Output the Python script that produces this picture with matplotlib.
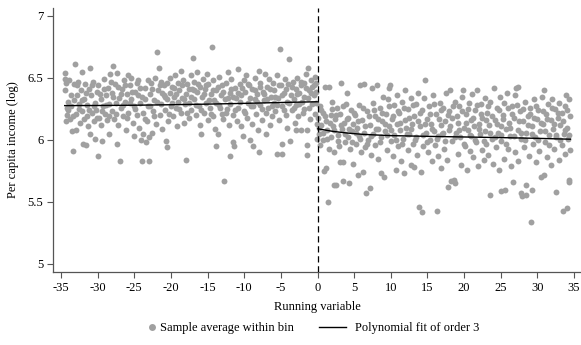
import numpy as np
import matplotlib
matplotlib.use("Agg")
import matplotlib.pyplot as plt
from matplotlib.lines import Line2D

# --- Данные ---
# точки слева от порога (x, y)
left_points = [
    (-34.4, 6.54), (-34.4, 6.49), (-34.3, 6.46), (-34.2, 6.20), (-34.3, 6.15), (-34.1, 6.31), (-34.0, 6.24),
    (-33.9, 6.48), (-33.8, 6.17), (-33.7, 6.27), (-33.5, 6.07), (-33.4, 5.91), (-33.3, 6.32), (-33.2, 6.45), (-33.1, 6.61), (-33.0, 6.21),
    (-32.9, 6.08), (-32.8, 6.36), (-32.7, 6.47), (-32.5, 6.29), (-32.4, 6.14), (-32.3, 6.40), (-32.2, 6.55), (-32.0, 5.97), (-32.1, 6.23),
    (-31.9, 6.33), (-31.7, 6.45), (-31.6, 5.96), (-31.5, 6.19), (-31.4, 6.28), (-31.3, 6.11), (-31.2, 6.41), (-31.0, 6.58), (-31.1, 6.05),
    (-30.9, 6.36), (-30.8, 6.22), (-30.6, 6.47), (-30.5, 6.15), (-30.4, 6.30), (-30.3, 6.01), (-30.1, 6.39), (-30.0, 5.87), (-30.2, 6.24),
    (-29.9, 6.44), (-29.8, 6.18), (-29.6, 6.33), (-29.5, 6.12), (-29.4, 5.99), (-29.3, 6.27), (-29.1, 6.49), (-29.0, 6.21),
    (-28.9, 6.36), (-28.7, 6.16), (-28.6, 6.42), (-28.5, 6.05), (-28.4, 6.29), (-28.3, 6.53), (-28.1, 6.23), (-28.0, 6.38),
    (-27.9, 6.60), (-27.8, 6.17), (-27.7, 6.45), (-27.5, 6.30), (-27.4, 6.54), (-27.3, 5.97), (-27.2, 6.12), (-27.1, 6.34),
    (-26.9, 5.83), (-26.8, 6.26), (-26.7, 6.41), (-26.5, 6.19), (-26.4, 6.48), (-26.3, 6.31), (-26.1, 6.08), (-26.0, 6.37),
    (-25.9, 6.52), (-25.8, 6.22), (-25.6, 6.44), (-25.5, 6.33), (-25.4, 6.50), (-25.2, 6.14), (-25.1, 6.27), (-25.0, 6.03),
    (-24.9, 6.39), (-24.7, 6.46), (-24.6, 6.20), (-24.5, 6.48), (-24.3, 6.10), (-24.2, 6.30), (-24.1, 6.00), (-24.0, 6.35),
    (-23.9, 5.83), (-23.8, 6.05), (-23.6, 6.42), (-23.5, 6.17), (-23.4, 5.98), (-23.2, 6.27), (-23.1, 6.48), (-23.0, 5.83), (-23.0, 6.02),
    (-22.9, 6.37), (-22.7, 6.46), (-22.6, 6.06), (-22.5, 6.23), (-22.3, 6.32), (-22.2, 6.50), (-22.1, 6.13), (-21.9, 6.71),
    (-21.8, 6.40), (-21.7, 6.58), (-21.5, 6.20), (-21.4, 6.47), (-21.3, 6.29), (-21.2, 6.09), (-21.0, 6.36),
    (-20.9, 6.44), (-20.8, 6.24), (-20.7, 5.99), (-20.6, 5.94), (-20.5, 6.33), (-20.4, 6.15), (-20.2, 6.50), (-20.1, 6.38), (-20.0, 6.27),
    (-19.9, 6.43), (-19.7, 6.19), (-19.6, 6.35), (-19.5, 6.52), (-19.3, 6.26), (-19.2, 6.11), (-19.1, 6.46), (-19.0, 6.31),
    (-18.9, 6.40), (-18.7, 6.56), (-18.6, 6.22), (-18.5, 6.34), (-18.3, 6.48), (-18.2, 6.14), (-18.0, 5.84), (-18.1, 6.29),
    (-17.9, 6.37), (-17.8, 6.45), (-17.6, 6.18), (-17.5, 6.30), (-17.3, 6.52), (-17.2, 6.24), (-17.0, 6.66), (-17.1, 6.41),
    (-16.9, 6.33), (-16.8, 6.47), (-16.6, 6.20), (-16.5, 6.39), (-16.4, 6.55), (-16.2, 6.27), (-16.1, 6.12), (-16.0, 6.43),
    (-15.9, 6.05), (-15.8, 6.35), (-15.6, 6.49), (-15.5, 6.22), (-15.4, 6.41), (-15.2, 6.30), (-15.1, 6.53), (-15.0, 6.16),
    (-14.9, 6.45), (-14.7, 6.26), (-14.6, 6.37), (-14.4, 6.75), (-14.3, 6.19), (-14.2, 6.48), (-14.1, 6.32), (-14.0, 6.09),
    (-13.9, 5.95), (-13.8, 6.40), (-13.6, 6.05), (-13.5, 6.28), (-13.4, 6.51), (-13.2, 6.36), (-13.1, 6.21), (-13.0, 6.44),
    (-12.9, 6.17), (-12.7, 5.67), (-12.6, 6.33), (-12.5, 6.46), (-12.4, 6.25), (-12.2, 6.55), (-12.1, 6.12), (-12.0, 5.87), (-12.0, 6.38),
    (-11.9, 6.29), (-11.8, 6.49), (-11.6, 5.98), (-11.5, 6.20), (-11.4, 5.95), (-11.3, 6.42), (-11.1, 6.34), (-11.0, 6.15),
    (-10.9, 6.57), (-10.8, 6.26), (-10.6, 6.45), (-10.5, 6.11), (-10.4, 6.36), (-10.2, 6.03), (-10.1, 6.48), (-10.0, 6.23),
    (-9.9, 6.39), (-9.8, 6.52), (-9.6, 6.18), (-9.5, 6.30), (-9.3, 6.44), (-9.2, 6.00), (-9.1, 6.27), (-9.0, 6.13),
    (-8.9, 6.41), (-8.8, 5.95), (-8.6, 6.33), (-8.5, 6.50), (-8.4, 6.21), (-8.2, 6.37), (-8.1, 6.08), (-8.0, 5.90), (-8.0, 6.56),
    (-7.9, 6.28), (-7.8, 6.46), (-7.6, 6.16), (-7.5, 6.39), (-7.3, 6.32), (-7.2, 6.53), (-7.1, 6.22), (-7.0, 6.05),
    (-6.9, 6.43), (-6.8, 6.26), (-6.6, 6.49), (-6.5, 6.12), (-6.4, 6.35), (-6.2, 6.19), (-6.1, 6.46), (-6.0, 6.30),
    (-5.9, 6.40), (-5.8, 6.23), (-5.6, 5.89), (-5.5, 6.52), (-5.4, 6.34), (-5.2, 6.16), (-5.1, 6.73), (-5.0, 6.44),
    (-4.9, 6.27), (-4.8, 5.89), (-4.8, 5.97), (-4.6, 6.38), (-4.5, 6.49), (-4.3, 6.20), (-4.2, 6.31), (-4.1, 6.10), (-4.0, 6.45),
    (-3.9, 6.65), (-3.8, 5.99), (-3.6, 6.36), (-3.5, 6.24), (-3.4, 6.47), (-3.2, 6.33), (-3.1, 6.14), (-3.0, 6.08), (-3.0, 6.41),
    (-2.9, 6.28), (-2.8, 6.50), (-2.6, 6.19), (-2.5, 6.38), (-2.3, 6.44), (-2.2, 6.08), (-2.1, 6.31), (-2.0, 6.22),
    (-1.9, 6.46), (-1.8, 6.35), (-1.6, 6.53), (-1.5, 5.96), (-1.4, 5.88), (-1.4, 6.08), (-1.3, 6.58), (-1.2, 6.26), (-1.1, 6.40), (-1.0, 6.17),
    (-0.9, 6.48), (-0.8, 6.29), (-0.7, 6.43), (-0.5, 6.36), (-0.4, 6.21), (-0.3, 6.51), (-0.2, 6.39), (-0.1, 6.13), (-0.03, 6.01),
]

# плотное ядро облака слева
left_core = [
    (-34.45, 6.40), (-34.15, 6.26), (-33.65, 6.36), (-33.35, 6.19), (-32.85, 6.44), (-32.6, 6.25), (-32.15, 6.32), (-31.85, 6.17),
    (-31.55, 6.38), (-31.25, 6.24), (-30.75, 6.44), (-30.45, 6.27), (-30.05, 6.18), (-29.75, 6.37), (-29.45, 6.23), (-29.15, 6.41),
    (-28.8, 6.28), (-28.45, 6.19), (-28.15, 6.47), (-27.85, 6.35), (-27.55, 6.21), (-27.25, 6.43), (-26.85, 6.37), (-26.55, 6.28),
    (-26.25, 6.44), (-25.95, 6.18), (-25.65, 6.30), (-25.35, 6.39), (-24.85, 6.25), (-24.55, 6.36), (-24.25, 6.42), (-23.85, 6.22),
    (-23.55, 6.33), (-23.25, 6.15), (-22.85, 6.27), (-22.55, 6.41), (-22.25, 6.19), (-21.85, 6.31), (-21.55, 6.44), (-21.25, 6.38),
    (-20.85, 6.35), (-20.55, 6.46), (-20.25, 6.21), (-19.85, 6.30), (-19.55, 6.42), (-19.25, 6.37), (-18.85, 6.25), (-18.55, 6.44),
    (-18.25, 6.33), (-17.85, 6.22), (-17.55, 6.41), (-17.25, 6.35), (-16.85, 6.40), (-16.55, 6.28), (-16.25, 6.45), (-15.85, 6.24),
    (-15.55, 6.37), (-15.25, 6.44), (-14.85, 6.32), (-14.55, 6.21), (-14.25, 6.40), (-13.85, 6.30), (-13.55, 6.43), (-13.25, 6.26),
    (-12.85, 6.39), (-12.55, 6.22), (-12.25, 6.34), (-11.85, 6.41), (-11.55, 6.35), (-11.25, 6.24), (-10.85, 6.38), (-10.55, 6.31),
    (-10.25, 6.42), (-9.85, 6.22), (-9.55, 6.45), (-9.25, 6.34), (-8.85, 6.27), (-8.55, 6.40), (-8.25, 6.31), (-7.85, 6.43),
    (-7.55, 6.25), (-7.25, 6.37), (-6.85, 6.33), (-6.55, 6.41), (-6.25, 6.27), (-5.85, 6.35), (-5.55, 6.28), (-5.25, 6.44),
    (-4.85, 6.36), (-4.55, 6.24), (-4.25, 6.41), (-3.85, 6.30), (-3.55, 6.43), (-3.25, 6.26), (-2.85, 6.37), (-2.55, 6.29),
    (-2.25, 6.47), (-1.85, 6.25), (-1.55, 6.42), (-1.25, 6.34), (-0.85, 6.38), (-0.55, 6.44), (-0.25, 6.30), (-0.15, 6.46),
]

# точки справа от порога (x, y)
right_points = [
    (0.1, 6.18), (0.2, 6.05), (0.3, 6.27), (0.4, 5.96), (0.5, 6.12), (0.7, 6.22), (0.8, 6.00), (0.9, 5.75), (1.0, 6.43),
    (1.1, 6.15), (1.2, 5.77), (1.3, 6.08), (1.4, 5.50), (1.5, 6.43), (1.6, 5.93), (1.8, 6.20), (1.9, 6.02), (2.0, 6.31),
    (2.1, 6.11), (2.2, 5.90), (2.3, 5.64), (2.4, 6.17), (2.5, 5.64), (2.6, 6.26), (2.8, 6.04), (2.9, 5.95), (3.0, 5.82),
    (3.1, 6.21), (3.2, 6.46), (3.3, 6.09), (3.5, 5.67), (3.5, 5.82), (3.6, 6.14), (3.7, 5.98), (3.9, 6.29), (4.0, 6.38),
    (4.1, 6.02), (4.2, 6.18), (4.3, 5.65), (4.4, 5.93), (4.6, 6.24), (4.7, 6.07), (4.8, 5.81), (4.9, 6.13),
    (5.1, 6.20), (5.2, 5.97), (5.4, 6.10), (5.5, 5.72), (5.6, 6.28), (5.7, 6.03), (5.8, 6.44), (5.9, 5.90),
    (6.1, 6.16), (6.2, 5.74), (6.3, 6.45), (6.4, 6.06), (6.5, 5.94), (6.6, 5.57), (6.8, 6.23), (6.9, 6.00), (7.1, 5.61),
    (7.2, 6.12), (7.3, 5.88), (7.4, 6.42), (7.5, 6.30), (7.6, 6.05), (7.8, 6.19), (7.9, 5.96),
    (8.1, 6.44), (8.2, 6.09), (8.3, 5.85), (8.5, 6.26), (8.6, 6.02), (8.7, 5.73), (8.8, 6.15), (8.9, 6.35),
    (9.1, 5.70), (9.2, 6.07), (9.3, 6.21), (9.5, 5.92), (9.6, 6.33), (9.7, 6.42), (9.8, 6.11), (9.9, 6.44), (10.0, 5.99),
    (10.1, 6.17), (10.3, 5.87), (10.4, 6.28), (10.5, 6.04), (10.7, 5.76), (10.8, 6.13), (10.9, 6.36), (11.0, 5.95),
    (11.1, 6.22), (11.3, 6.08), (11.4, 5.83), (11.5, 6.31), (11.7, 6.01), (11.8, 5.73), (11.9, 6.16), (12.0, 6.40),
    (12.1, 6.10), (12.3, 5.92), (12.4, 6.25), (12.5, 6.05), (12.7, 5.80), (12.8, 6.34), (12.9, 6.13), (13.0, 5.97),
    (13.1, 6.19), (13.2, 5.78), (13.4, 6.29), (13.5, 6.02), (13.6, 5.88), (13.7, 6.38), (13.9, 5.46), (14.0, 6.11),
    (14.1, 5.74), (14.2, 5.42), (14.3, 6.24), (14.4, 5.95), (14.5, 6.34), (14.6, 6.48), (14.8, 6.06), (14.9, 6.17),
    (15.1, 5.90), (15.2, 6.27), (15.3, 6.00), (15.5, 6.13), (15.6, 5.83), (15.7, 6.36), (15.9, 6.07), (16.0, 5.96),
    (16.1, 6.21), (16.3, 5.43), (16.4, 6.03), (16.5, 5.87), (16.7, 6.30), (16.8, 6.12), (16.9, 5.77), (17.0, 6.05),
    (17.1, 6.26), (17.2, 5.93), (17.4, 6.15), (17.5, 6.38), (17.7, 5.84), (17.8, 5.62), (17.9, 6.08), (18.0, 6.23),
    (18.1, 6.40), (18.2, 5.67), (18.3, 5.99), (18.4, 6.18), (18.6, 5.68), (18.7, 6.31), (18.8, 5.65), (18.9, 6.06),
    (19.1, 6.14), (19.2, 5.89), (19.3, 6.27), (19.5, 6.02), (19.6, 5.80), (19.7, 6.35), (19.9, 6.40), (20.0, 6.10),
    (20.1, 5.95), (20.3, 6.21), (20.4, 5.76), (20.5, 6.08), (20.7, 6.30), (20.8, 5.91), (20.9, 6.16), (21.0, 6.03),
    (21.1, 6.37), (21.2, 5.86), (21.4, 6.11), (21.5, 6.24), (21.6, 5.98), (21.7, 6.40), (21.9, 5.79), (22.0, 6.13),
    (22.1, 6.05), (22.3, 6.29), (22.4, 5.92), (22.5, 6.18), (22.7, 5.84), (22.8, 6.34), (22.9, 6.07), (23.0, 5.97),
    (23.1, 6.22), (23.2, 5.88), (23.4, 6.12), (23.5, 5.56), (23.6, 6.31), (23.8, 6.01), (23.9, 5.81), (24.1, 6.42),
    (24.2, 6.16), (24.3, 5.94), (24.5, 6.26), (24.6, 6.06), (24.7, 5.76), (24.9, 6.35), (25.0, 5.59), (25.0, 6.11),
    (25.1, 5.99), (25.3, 6.20), (25.4, 5.85), (25.5, 6.30), (25.6, 5.60), (25.7, 6.09), (25.9, 6.38), (26.0, 5.93),
    (26.1, 6.14), (26.3, 6.03), (26.4, 5.79), (26.5, 6.27), (26.7, 5.66), (26.8, 6.18), (26.9, 5.90), (27.0, 6.36),
    (27.1, 6.42), (27.3, 6.43), (27.3, 6.08), (27.4, 5.83), (27.6, 6.23), (27.7, 5.57), (27.8, 6.01), (27.9, 5.55), (28.0, 6.15),
    (28.2, 5.94), (28.3, 6.31), (28.4, 5.56), (28.4, 5.64), (28.5, 6.06), (28.7, 6.19), (28.8, 5.87), (29.0, 6.26),
    (29.1, 5.34), (29.2, 5.60), (29.3, 6.11), (29.4, 5.97), (29.6, 6.33), (29.7, 6.02), (29.8, 5.82), (30.0, 6.17),
    (30.1, 6.24), (30.2, 5.91), (30.4, 6.07), (30.5, 5.70), (30.6, 6.35), (30.8, 6.13), (30.9, 5.72), (30.9, 6.40),
    (31.1, 5.98), (31.2, 6.21), (31.3, 5.86), (31.5, 6.29), (31.6, 6.04), (31.8, 5.80), (31.9, 6.16), (32.0, 6.33),
    (32.1, 6.09), (32.3, 5.93), (32.4, 6.25), (32.5, 5.58), (32.6, 6.02), (32.8, 6.18), (32.9, 5.84), (33.0, 6.30),
    (33.1, 6.12), (33.3, 5.96), (33.4, 6.22), (33.5, 5.43), (33.6, 6.05), (33.7, 5.89), (33.8, 6.27), (33.9, 6.36), (34.0, 6.10),
    (34.1, 5.45), (34.2, 6.01), (34.3, 6.33), (34.3, 5.66), (34.3, 5.68), (34.4, 6.19), (34.4, 5.92),
]

# плотное ядро облака справа
right_core = [
    (0.15, 6.10), (0.45, 6.24), (0.75, 6.06), (1.05, 6.19), (1.35, 6.01), (1.65, 6.14), (1.95, 6.25), (2.25, 6.08),
    (2.55, 6.20), (2.85, 5.99), (3.15, 6.12), (3.45, 6.27), (3.75, 6.05), (4.05, 6.17), (4.35, 6.09), (4.65, 5.98),
    (4.95, 6.22), (5.25, 6.06), (5.55, 6.15), (5.85, 6.01), (6.15, 6.26), (6.45, 6.11), (6.75, 5.97), (7.05, 6.19),
    (7.35, 6.03), (7.65, 6.24), (7.95, 6.09), (8.25, 6.17), (8.55, 5.98), (8.85, 6.22), (9.15, 6.13), (9.45, 6.04),
    (9.75, 6.27), (10.05, 6.08), (10.35, 6.19), (10.65, 6.00), (10.95, 6.23), (11.25, 6.14), (11.55, 5.97), (11.85, 6.26),
    (12.15, 6.05), (12.45, 6.18), (12.75, 6.09), (13.05, 6.28), (13.35, 6.00), (13.65, 6.15), (13.95, 6.22), (14.35, 6.04),
    (14.65, 6.13), (14.95, 5.98), (15.35, 6.21), (15.65, 6.09), (15.95, 6.29), (16.25, 6.01), (16.55, 6.17), (16.85, 6.24),
    (17.15, 6.06), (17.45, 5.99), (17.75, 6.20), (18.05, 6.11), (18.45, 6.27), (18.75, 6.02), (19.05, 6.19), (19.35, 6.08),
    (19.65, 6.23), (19.95, 5.97), (20.25, 6.14), (20.55, 6.25), (20.85, 6.04), (21.15, 6.18), (21.45, 6.00), (21.75, 6.28),
    (22.05, 6.09), (22.35, 6.21), (22.65, 5.99), (22.95, 6.16), (23.25, 6.27), (23.55, 6.06), (23.85, 6.19), (24.15, 6.02),
    (24.45, 6.13), (24.75, 6.24), (25.05, 6.04), (25.35, 6.17), (25.65, 5.97), (25.95, 6.26), (26.25, 6.10), (26.55, 6.21),
    (26.85, 6.03), (27.15, 6.28), (27.45, 6.15), (27.75, 6.06), (28.05, 6.25), (28.35, 6.00), (28.65, 6.12), (28.95, 6.21),
    (29.25, 6.05), (29.55, 6.18), (29.85, 6.27), (30.15, 6.00), (30.45, 6.14), (30.75, 6.23), (31.05, 6.07), (31.35, 6.17),
    (31.65, 5.96), (31.95, 6.26), (32.25, 6.13), (32.55, 6.04), (32.85, 6.22), (33.15, 6.00), (33.45, 6.15), (33.75, 6.08),
    (34.05, 6.24), (34.35, 6.04),
]

# полиномиальная аппроксимация
fit_left_x = [-34.5, -30, -25, -20, -15, -10, -5, -0.05]
fit_left_y = [6.277, 6.278, 6.280, 6.284, 6.289, 6.295, 6.302, 6.308]
fit_right_x = [0.05, 2, 4, 6, 8, 10, 15, 20, 25, 30, 34.5]
fit_right_y = [6.090, 6.070, 6.056, 6.046, 6.040, 6.035, 6.029, 6.024, 6.019, 6.013, 6.006]

x_ticks = [-35, -30, -25, -20, -15, -10, -5, 0, 5, 10, 15, 20, 25, 30, 35]
y_ticks = [5, 5.5, 6, 6.5, 7]
y_tick_labels = ["5", "5.5", "6", "6.5", "7"]

pts = np.array(left_points + left_core + right_points + right_core)
x_all, y_all = pts[:, 0], pts[:, 1]

plt.rcParams["font.family"] = ["Liberation Serif", "DejaVu Serif"]
plt.rcParams["font.size"] = 9
plt.rcParams["axes.unicode_minus"] = False

fig = plt.figure(figsize=(5.81, 3.45), dpi=100)
ax = fig.add_axes([0.0912, 0.2116, 0.9088, 0.7655])

dot_color = "#a0a0a0"
ax.scatter(x_all, y_all, s=18, color=dot_color, linewidths=0, zorder=2)
ax.plot(fit_left_x, fit_left_y, color="black", lw=1.0, zorder=3)
ax.plot(fit_right_x, fit_right_y, color="black", lw=1.0, zorder=3)
ax.axvline(0, color="black", lw=0.9, ls=(0, (5, 3)), zorder=4)

ax.set_xlim(-36.1, 35.95)
ax.set_ylim(4.935, 7.065)
ax.set_xticks(x_ticks)
ax.set_yticks(y_ticks)
ax.set_yticklabels(y_tick_labels)

for side in ["top", "right"]:
    ax.spines[side].set_visible(False)
for side in ["left", "bottom"]:
    ax.spines[side].set_color("#555555")
    ax.spines[side].set_linewidth(0.9)
ax.tick_params(direction="out", length=4, width=0.8, color="#555555", labelsize=9, pad=3)

ax.set_xlabel("Running variable", fontsize=9, labelpad=5)
ax.set_ylabel("Per capita income (log)", fontsize=9, labelpad=6)

# легенда внизу: две отдельные части, чтобы задать свои отступы
dot_handle = Line2D([], [], marker="o", ls="none", color=dot_color, markersize=5, markeredgewidth=0)
line_handle = Line2D([], [], color="black", lw=1.0)
fig.legend([dot_handle], ["Sample average within bin"], loc="center left",
           bbox_to_anchor=(0.2509, 0.049), frameon=False, fontsize=9,
           handlelength=1.0, handletextpad=0.15, borderpad=0, borderaxespad=0)
fig.legend([line_handle], ["Polynomial fit of order 3"], loc="center left",
           bbox_to_anchor=(0.549, 0.049), frameon=False, fontsize=9,
           handlelength=2.16, handletextpad=0.7, borderpad=0, borderaxespad=0)

fig.savefig("out.png", dpi=100)
